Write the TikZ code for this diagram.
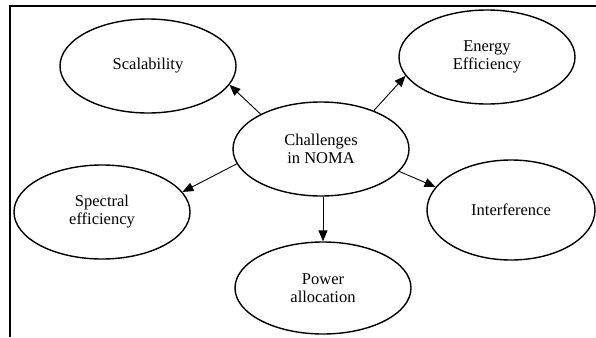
\documentclass[tikz,border=0pt]{standalone}
\usepackage{fontspec}
\setmainfont{Liberation Serif}
\usetikzlibrary{shapes.geometric,arrows.meta}
\begin{document}
\begin{tikzpicture}[x=1pt,y=-1pt,
  bubble/.style={draw, ellipse, line width=1.4pt, inner sep=0pt, minimum width=176pt, minimum height=94pt, align=center, font=\fontsize{16.5}{18}\selectfont},
  link/.style={line width=0.9pt, -{Triangle[length=11pt,width=9pt]}}]
\useasboundingbox (0,0) rectangle (596,337);
\draw[line width=1.6pt] (10,337) -- (10,6) -- (596,6);
\node[bubble] (c) at (321,149) {Challenges\\in NOMA};
\node[bubble] (s) at (148,66) {Scalability};
\node[bubble] (e) at (487,57) {Energy\\Efficiency};
\node[bubble] (sp) at (102,212) {Spectral\\efficiency};
\node[bubble, minimum width=168pt, minimum height=100pt] (i) at (511,210) {Interference};
\node[bubble, minimum height=92pt] (p) at (323,288) {Power\\allocation};
\draw[link] (c.150) -- (s.-13);
\draw[link] (c.36) -- (e.193);
\draw[link] (c.190) -- (sp.14);
\draw[link] (c.-16) -- (i.163);
\draw[link] (c.south -| p.north) -- (p.north);
\end{tikzpicture}
\end{document}
